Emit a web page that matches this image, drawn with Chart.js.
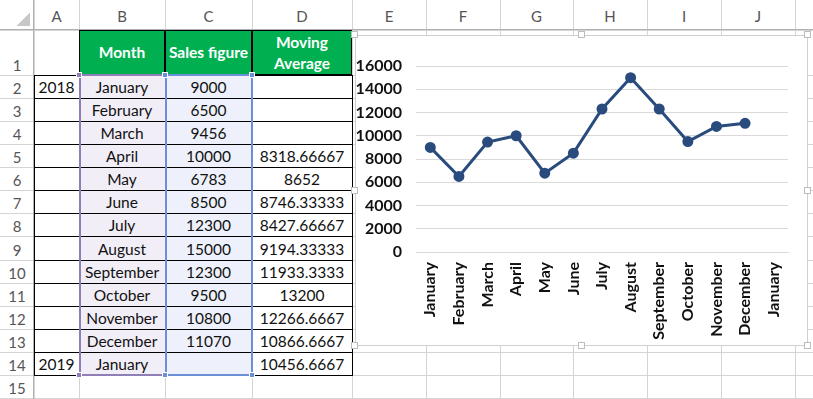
<!DOCTYPE html>
<html>
<head>
<meta charset="utf-8">
<script src="https://cdn.jsdelivr.net/npm/chart.js"></script>
<style>
  html, body { margin: 0; padding: 0; background: #fff; }
  #sheet { position: relative; width: 813px; height: 399px; overflow: hidden; font-family: Lato, "Open Sans", sans-serif; }
  .c { position: absolute; box-sizing: border-box; }
  .t { position: absolute; box-sizing: border-box; display: flex; align-items: center; justify-content: center; font-size: 15.5px; color: #111; white-space: nowrap; }
  .hd { color: #555; font-size: 15px; }
  .h { position: absolute; width: 5px; height: 5px; box-sizing: border-box; }
  #frame { position: absolute; left: 355px; top: 35px; width: 453px; height: 311px; box-sizing: border-box; border: 1px solid #d0d0d0; background: #fff; }
  #chart { position: absolute; left: 356px; top: 36px; }
</style>
</head>
<body>
<div id="sheet"></div>
<canvas id="chart" width="451" height="309"></canvas>
<script>
// data
const years = ['2018', '', '', '', '', '', '', '', '', '', '', '', '2019']
const months = ['January', 'February', 'March', 'April', 'May', 'June', 'July', 'August', 'September', 'October', 'November', 'December', 'January']
const sales = [9000, 6500, 9456, 10000, 6783, 8500, 12300, 15000, 12300, 9500, 10800, 11070, null]
const movingAvg = ['', '', '', '8318.66667', '8652', '8746.33333', '8427.66667', '9194.33333', '11933.3333', '13200', '12266.6667', '10866.6667', '10456.6667']
const yTicks = [0, 2000, 4000, 6000, 8000, 10000, 12000, 14000, 16000]

// sheet grid
const colX = [0, 34, 79, 165, 252, 352, 426, 500, 573, 647, 721, 795, 869]
const colNames = ['', 'A', 'B', 'C', 'D', 'E', 'F', 'G', 'H', 'I', 'J', '']
const rowY = [0, 30, 75, 98, 121, 144, 167, 190, 213, 236, 260, 283, 306, 329, 352, 375, 398, 421]
const sheet = document.getElementById('sheet')

const box = (x, y, w, h, css, cls) => {
  const d = document.createElement('div')
  d.className = cls || 'c'
  d.style.left = x + 'px'; d.style.top = y + 'px'
  d.style.width = w + 'px'; d.style.height = h + 'px'
  if (css) d.style.cssText += css
  sheet.appendChild(d)
  return d
}

// light gridlines
for (let i = 1; i < colX.length; i++) box(colX[i], 0, 1, 399, 'background:#d4d4d4')
for (let j = 1; j < rowY.length; j++) box(0, rowY[j], 813, 1, 'background:#d4d4d4')
box(0, 29, 813, 1, 'background:#b0b0b0')
box(33, 0, 1, 399, 'background:#b0b0b0')
// corner triangle
box(16, 12, 14, 14, 'background:linear-gradient(135deg, transparent 50%, #c8c8c8 50%)')

// column + row headers
for (let i = 1; i < colNames.length; i++) {
  box(colX[i], 2, colX[i + 1] - colX[i], 28, '', 't hd').textContent = colNames[i]
}
for (let j = 1; j < rowY.length - 1; j++) {
  const d = box(0, rowY[j], 34, rowY[j + 1] - rowY[j], 'align-items:flex-end;padding-bottom:1px', 't hd')
  d.textContent = j
}

// selection fills
box(colX[2], rowY[2], colX[3] - colX[2], rowY[15] - rowY[2], 'background:#f1eef8')
box(colX[3], rowY[2], colX[4] - colX[3], rowY[15] - rowY[2], 'background:#eef1fb')

// header row
const heads = ['Month', 'Sales figure', 'Moving<br>Average']
heads.forEach((txt, k) => {
  const d = box(colX[2 + k], rowY[1], colX[3 + k] - colX[2 + k], rowY[2] - rowY[1],
    'background:#00b050;color:#fff;font-weight:bold;text-align:center;line-height:21px;border:1px solid #000', 't')
  d.innerHTML = txt
})

// table body
for (let r = 0; r < months.length; r++) {
  const y = rowY[r + 2], h = rowY[r + 3] - y
  const cells = [years[r], months[r], sales[r] == null ? '' : String(sales[r]), movingAvg[r]]
  cells.forEach((txt, k) => {
    box(colX[1 + k], y, colX[2 + k] - colX[1 + k] + 1, h + 1, 'border:1px solid #000', 'c')
    const d = box(colX[1 + k], y, colX[2 + k] - colX[1 + k], h, 'padding-top:1px', 't')
    d.textContent = txt
  })
}

// range highlight borders
const yTop = rowY[2], yBot = rowY[15]
box(colX[2], yTop, 2, yBot - yTop + 1, 'background:#8f7fb6')
box(colX[2], yBot - 1, colX[3] - colX[2], 2, 'background:#8f7fb6')
box(colX[2], yTop - 1, colX[3] - colX[2], 2, 'background:#8f7fb6')
box(colX[3], yTop, 2, yBot - yTop + 1, 'background:#6c90d8')
box(colX[4] - 1, yTop, 2, yBot - yTop + 1, 'background:#6c90d8')
box(colX[3], yBot - 1, colX[4] - colX[3], 2, 'background:#6c90d8')
box(colX[3], yTop - 1, colX[4] - colX[3], 2, 'background:#6c90d8')
const sq = (x, y, c) => box(x - 3, y - 3, 6, 6, 'background:' + c + ';border:1px solid #fff', 'h')
sq(colX[2], yTop, '#8f7fb6'); sq(colX[2], yBot, '#8f7fb6')
sq(colX[3], yTop, '#6c90d8'); sq(colX[3], yBot, '#6c90d8')
sq(colX[4], yTop, '#6c90d8'); sq(colX[4], yBot, '#6c90d8')

// chart frame and handles
const frame = document.createElement('div')
frame.id = 'frame'
sheet.appendChild(frame)
const hx = [354, 581, 807], hy = [34, 190, 345]
hx.forEach(x => hy.forEach(y => {
  if (x === 581 && y === 190) return
  box(x - 3, y - 3, 7, 7, 'background:#fff;border:1px solid #bdbdbd;z-index:3', 'h')
}))

// chart
const ctx = document.getElementById('chart').getContext('2d')
const tickFont = { family: 'Lato, "Open Sans", sans-serif', size: 16, weight: 'bold' }

const config = {
  type: 'line',
  data: {
    labels: months,
    datasets: [{
      data: sales,
      borderColor: '#2a4b7d',
      backgroundColor: '#2a4b7d',
      borderWidth: 3,
      pointRadius: 4,
      pointHoverRadius: 4,
      tension: 0
    }]
  },
  options: {
    responsive: false,
    animation: false,
    layout: { padding: { top: 30, right: 19, left: 0, bottom: 0 } },
    plugins: { legend: { display: false }, tooltip: { enabled: false } },
    scales: {
      x: {
        offset: true,
        grid: { display: false, drawTicks: false },
        border: { display: true, color: '#d9d9d9' },
        ticks: { color: '#111', font: tickFont, minRotation: 90, maxRotation: 90, padding: 10, autoSkip: false },
        afterFit: (s) => { s.height = 93 }
      },
      y: {
        min: 0,
        max: 16000,
        afterBuildTicks: (s) => { s.ticks = yTicks.map(v => ({ value: v })) },
        grid: { color: '#d9d9d9', drawTicks: false },
        border: { display: false },
        ticks: { color: '#111', font: tickFont, padding: 14, callback: (v) => String(v) },
        afterFit: (s) => { s.width = 60 }
      }
    }
  }
}
new Chart(ctx, config)
</script>
</body>
</html>
